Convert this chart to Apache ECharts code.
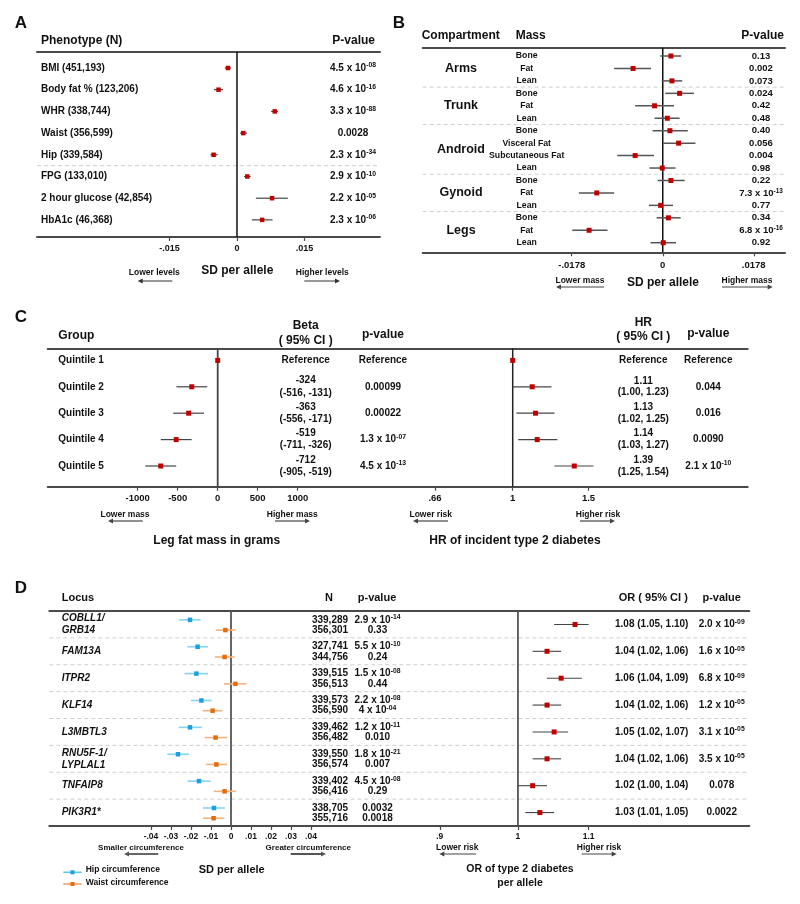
<!DOCTYPE html>
<html><head><meta charset="utf-8">
<script src="https://cdn.jsdelivr.net/npm/echarts@6/dist/echarts.min.js"></script>
<style>html,body{margin:0;padding:0;background:#fff}#c{width:800px;height:904px}</style>
</head><body><div id="c"></div>
<script>
const FONT = '"Liberation Sans", Arial, Helvetica, sans-serif';
const INK = '#111';

// ---------- Panel A ----------
const aLabels = ['BMI (451,193)', 'Body fat % (123,206)', 'WHR (338,744)', 'Waist (356,599)', 'Hip (339,584)', 'FPG (133,010)', '2 hour glucose (42,854)', 'HbA1c (46,368)'];
const aGroup = [0, 0, 0, 0, 0, 1, 1, 1];
const aEst = [-0.0020, -0.0041, 0.0084, 0.0014, -0.0052, 0.0023, 0.0078, 0.0056];
const aLo  = [-0.0027, -0.0051, 0.0076, 0.0007, -0.0059, 0.0016, 0.0042, 0.0033];
const aHi  = [-0.0013, -0.0031, 0.0091, 0.0022, -0.0043, 0.0030, 0.0113, 0.0079];
const aP = ['4.5 x 10^-08', '4.6 x 10^-16', '3.3 x 10^-88', '0.0028', '2.3 x 10^-34', '2.9 x 10^-10', '2.2 x 10^-05', '2.3 x 10^-06'];
const aTicks = [-0.015, 0, 0.015];
const aTickLabels = ['-.015', '0', '.015'];

// ---------- Panel B ----------
const bCompartments = ['Arms', 'Trunk', 'Android', 'Gynoid', 'Legs'];
const bGroupOf = [0, 0, 0, 1, 1, 1, 2, 2, 2, 2, 3, 3, 3, 4, 4, 4];
const bMass = ['Bone', 'Fat', 'Lean', 'Bone', 'Fat', 'Lean', 'Bone', 'Visceral Fat', 'Subcutaneous Fat', 'Lean', 'Bone', 'Fat', 'Lean', 'Bone', 'Fat', 'Lean'];
const bEst = [0.0016, -0.0058, 0.0018, 0.0033, -0.0016, 0.0009, 0.0014, 0.0031, -0.0054, -0.0001, 0.0016, -0.0129, -0.0004, 0.0011, -0.0144, 0.0001];
const bLo  = [-0.0005, -0.0095, -0.0002, 0.0005, -0.0054, -0.0016, -0.0020, 0.0001, -0.0089, -0.0026, -0.0010, -0.0164, -0.0027, -0.0012, -0.0177, -0.0024];
const bHi  = [0.0036, -0.0023, 0.0038, 0.0061, 0.0022, 0.0033, 0.0049, 0.0064, -0.0017, 0.0025, 0.0043, -0.0095, 0.0020, 0.0035, -0.0108, 0.0026];
const bP = ['0.13', '0.002', '0.073', '0.024', '0.42', '0.48', '0.40', '0.056', '0.004', '0.98', '0.22', '7.3 x 10^-13', '0.77', '0.34', '6.8 x 10^-16', '0.92'];
const bTicks = [-0.0178, 0, 0.0178];
const bTickLabels = ['-.0178', '0', '.0178'];

// ---------- Panel C ----------
const cGroups = ['Quintile 1', 'Quintile 2', 'Quintile 3', 'Quintile 4', 'Quintile 5'];
const cBeta   = [0, -324, -363, -519, -712];
const cBetaLo = [0, -516, -556, -711, -905];
const cBetaHi = [0, -131, -171, -326, -519];
const cBetaP  = ['Reference', '0.00099', '0.00022', '1.3 x 10^-07', '4.5 x 10^-13'];
const cHR   = [1, 1.11, 1.13, 1.14, 1.39];
const cHRLo = [1, 1.00, 1.02, 1.03, 1.25];
const cHRHi = [1, 1.23, 1.25, 1.27, 1.54];
const cHRP  = ['Reference', '0.044', '0.016', '0.0090', '2.1 x 10^-10'];
const cBetaTicks = [-1000, -500, 0, 500, 1000];
const cBetaTickLabels = ['-1000', '-500', '0', '500', '1000'];
const cHRTicks = [0.66, 1, 1.5];
const cHRTickLabels = ['.66', '1', '1.5'];

// ---------- Panel D ----------
const dLoci = ['COBLL1/\nGRB14', 'FAM13A', 'ITPR2', 'KLF14', 'L3MBTL3', 'RNU5F-1/\nLYPLAL1', 'TNFAIP8', 'PIK3R1*'];
const dHipEst = [-0.0205, -0.0167, -0.0173, -0.0148, -0.0205, -0.0265, -0.0160, -0.0085];
const dHipLo  = [-0.0258, -0.0218, -0.0232, -0.0200, -0.0262, -0.0318, -0.0217, -0.0140];
const dHipHi  = [-0.0152, -0.0115, -0.0115, -0.0097, -0.0145, -0.0210, -0.0102, -0.0030];
const dWaistEst = [-0.0028, -0.0032, 0.0022, -0.0092, -0.0077, -0.0073, -0.0032, -0.0087];
const dWaistLo  = [-0.0075, -0.0080, -0.0035, -0.0142, -0.0132, -0.0125, -0.0087, -0.0140];
const dWaistHi  = [0.0023, 0.0018, 0.0077, -0.0043, -0.0020, -0.0020, 0.0025, -0.0033];
const dHipN   = ['339,289', '327,741', '339,515', '339,573', '339,462', '339,550', '339,402', '338,705'];
const dWaistN = ['356,301', '344,756', '356,513', '356,590', '356,482', '356,574', '356,416', '355,716'];
const dHipP   = ['2.9 x 10^-14', '5.5 x 10^-10', '1.5 x 10^-08', '2.2 x 10^-08', '1.2 x 10^-11', '1.8 x 10^-21', '4.5 x 10^-08', '0.0032'];
const dWaistP = ['0.33', '0.24', '0.44', '4 x 10^-04', '0.010', '0.007', '0.29', '0.0018'];
const dOR   = [1.08, 1.04, 1.06, 1.04, 1.05, 1.04, 1.02, 1.03];
const dORLo = [1.05, 1.02, 1.04, 1.02, 1.02, 1.02, 1.00, 1.01];
const dORHi = [1.10, 1.06, 1.09, 1.06, 1.07, 1.06, 1.04, 1.05];
const dORP  = ['2.0 x 10^-09', '1.6 x 10^-05', '6.8 x 10^-09', '1.2 x 10^-05', '3.1 x 10^-05', '3.5 x 10^-05', '0.078', '0.0022'];
const dSDTicks = [-0.04, -0.03, -0.02, -0.01, 0, 0.01, 0.02, 0.03, 0.04];
const dSDTickLabels = ['-.04', '-.03', '-.02', '-.01', '0', '.01', '.02', '.03', '.04'];
const dORTicks = [0.9, 1, 1.1];
const dORTickLabels = ['.9', '1', '1.1'];

// ---------- builders ----------
const grids = [], xAxes = [], yAxes = [], series = [], gfx = [];
const idx = arr => arr.map((_, i) => i);

function addGrid(l, r, t, b, yMin, yMax) {
  grids.push({left: l, top: t, width: r - l, height: b - t, containLabel: false, outerBoundsMode: 'none'});
  const gi = grids.length - 1;
  yAxes.push({gridIndex: gi, type: 'value', inverse: true, min: yMin, max: yMax, show: false});
  return gi;
}
function tableGrid(l, r, t, b, yMin, yMax) {
  const gi = addGrid(l, r, t, b, yMin, yMax);
  const mk = pos => ({gridIndex: gi, type: 'value', min: l, max: r, position: pos,
    axisLine: {show: true, onZero: false, lineStyle: {color: '#4a4a4a', width: 2}},
    axisTick: {show: false}, axisLabel: {show: false}, splitLine: {show: false}});
  xAxes.push(mk('bottom'));
  xAxes.push(mk('top'));
  return {gi, xi: xAxes.length - 1, l, r, yMin, yMax};
}
function nearestLabel(ticks, labels) {
  return v => { let k = 0, d = Infinity; ticks.forEach((t, i) => { const e = Math.abs(t - v); if (e < d) { d = e; k = i; } }); return labels[k]; };
}
function forestGrid(l, r, t, b, yMin, yMax, type, min, max, ticks, labels, margin, fs) {
  const gi = addGrid(l, r, t, b, yMin, yMax);
  xAxes.push({gridIndex: gi, type, min, max, position: 'bottom',
    axisLine: {show: false, onZero: false}, splitLine: {show: false},
    axisTick: {show: true, customValues: ticks, length: 4, lineStyle: {color: '#4a4a4a', width: 1.2}},
    axisLabel: {show: true, customValues: ticks, formatter: nearestLabel(ticks, labels), margin, fontSize: fs,
      fontWeight: 'bold', color: INK, fontFamily: FONT, hideOverlap: false}});
  return {gi, xi: xAxes.length - 1, l, r, yMin, yMax};
}
function fmt(t) {
  return String(t).split('\n').map(line => {
    const k = line.indexOf('^');
    return k < 0 ? line : line.slice(0, k) + '{s|' + line.slice(k + 1) + '}';
  }).join('\n');
}
function textCol(g, x, rows, texts, o) {
  const sz = o.size;
  series.push({type: 'custom', xAxisIndex: g.xi, yAxisIndex: g.gi, silent: true, z: 6,
    data: texts.map((t, i) => [x, rows[i]]),
    encode: {x: 0, y: 1},
    renderItem: (p, api) => {
      const c = api.coord([api.value(0), api.value(1)]);
      return {type: 'text', x: c[0], y: c[1], style: {
        text: fmt(texts[p.dataIndex]), align: o.align || 'center', verticalAlign: 'middle',
        fill: INK, fontFamily: FONT, fontSize: sz, fontWeight: 'bold', fontStyle: o.italic ? 'italic' : 'normal',
        lineHeight: o.lh || Math.round(sz * 1.2),
        rich: {s: {fontSize: Math.round(sz * 0.68 * 10) / 10, fontWeight: 'bold', fontFamily: FONT, fill: INK, color: INK,
                   verticalAlign: 'top', lineHeight: Math.round(sz * 0.75)}}
      }};
    }});
}
function forest(g, rows, est, lo, hi, o) {
  series.push({type: 'custom', xAxisIndex: g.xi, yAxisIndex: g.gi, silent: true, z: 5,
    data: est.map((e, i) => [e, lo[i], hi[i], rows[i]]),
    encode: {x: [0, 1, 2], y: 3},
    renderItem: (p, api) => {
      const y = api.value(3);
      const c = api.coord([api.value(0), y]), a = api.coord([api.value(1), y]), b = api.coord([api.value(2), y]);
      const s = o.size, ch = [];
      if (b[0] - a[0] > 0.5) ch.push({type: 'line', shape: {x1: a[0], y1: a[1], x2: b[0], y2: b[1]}, style: {stroke: o.ci, lineWidth: o.lw}});
      ch.push({type: 'rect', shape: {x: c[0] - s / 2, y: c[1] - s / 2, width: s, height: s}, style: {fill: o.pt}});
      return {type: 'group', children: ch};
    }});
}
function vline(g, xv, color, w) {
  series.push({type: 'custom', xAxisIndex: g.xi, yAxisIndex: g.gi, silent: true, z: 4,
    data: [[xv, 0]], encode: {x: 0, y: 1},
    renderItem: (p, api) => {
      const a = api.coord([api.value(0), g.yMin]), b = api.coord([api.value(0), g.yMax]);
      return {type: 'line', shape: {x1: a[0], y1: a[1], x2: b[0], y2: b[1]}, style: {stroke: color || '#111', lineWidth: w || 1.5}};
    }});
}
function hseps(g, ys) {
  series.push({type: 'custom', xAxisIndex: g.xi, yAxisIndex: g.gi, silent: true, z: 2,
    data: ys.map(y => [g.l, y]), encode: {x: 0, y: 1},
    renderItem: (p, api) => {
      const a = api.coord([g.l, api.value(1)]), b = api.coord([g.r, api.value(1)]);
      return {type: 'line', shape: {x1: a[0], y1: a[1], x2: b[0], y2: b[1]}, style: {stroke: '#cfcfcf', lineWidth: 1, lineDash: [4, 3]}};
    }});
}
function breaksOf(groupArr) {
  const out = [];
  for (let i = 1; i < groupArr.length; i++) if (groupArr[i] !== groupArr[i - 1]) out.push(i - 0.5);
  return out;
}
function txt(x, y, text, size, align, extra) {
  gfx.push(Object.assign({type: 'text', x, y, silent: true, style: {text, fill: INK, fontFamily: FONT, fontSize: size,
    fontWeight: 'bold', align: align || 'center', verticalAlign: 'middle'}}, extra || {}));
}
function arrow(x1, x2, y, color, w) {
  const dir = Math.sign(x2 - x1);
  gfx.push({type: 'line', silent: true, shape: {x1, y1: y, x2: x2 - dir * 3, y2: y}, style: {stroke: color, lineWidth: w}});
  gfx.push({type: 'polygon', silent: true, shape: {points: [[x2, y], [x2 - dir * 5, y - 2.5], [x2 - dir * 5, y + 2.5]]}, style: {fill: color}});
}

// ---------- Panel A ----------
{
  const L = 37, R = 380, T = 52, B = 237, yMin = -0.737, yMax = 7.788;
  const tg = tableGrid(L, R, T, B, yMin, yMax);
  const fg = forestGrid(L, R, T, B, yMin, yMax, 'value', -0.04444, 0.03178, aTicks, aTickLabels, 7, 9);
  hseps(tg, breaksOf(aGroup));
  vline(fg, 0, '#111', 1.5);
  forest(fg, idx(aEst), aEst, aLo, aHi, {size: 4.5, pt: '#c00000', ci: '#222', lw: 1});
  textCol(tg, 41, idx(aLabels), aLabels, {size: 10, align: 'left'});
  textCol(tg, 353, idx(aP), aP, {size: 10});
  txt(21, 23, 'A', 17);
  txt(41, 41, 'Phenotype (N)', 12, 'left');
  txt(375, 41, 'P-value', 12, 'right');
  txt(154.3, 272.7, 'Lower levels', 8.5);
  arrow(172.3, 137.7, 281, '#333', 1);
  txt(237.3, 271, 'SD per allele', 12);
  txt(322.3, 272.7, 'Higher levels', 8.5);
  arrow(304.3, 340, 281, '#333', 1);
}

// ---------- Panel B ----------
{
  const L = 422.7, R = 785, T = 47.7, B = 252.3, yMin = -0.667, yMax = 15.77;
  const tg = tableGrid(L, R, T, B, yMin, yMax);
  const fg = forestGrid(L, R, T, B, yMin, yMax, 'value', -0.04695, 0.02391, bTicks, bTickLabels, 8, 9.5);
  hseps(tg, breaksOf(bGroupOf));
  vline(fg, 0, '#111', 1.5);
  forest(fg, idx(bEst), bEst, bLo, bHi, {size: 5, pt: '#c00000', ci: '#555', lw: 1.5});
  const groupRows = bCompartments.map((_, g) => {
    const ii = bGroupOf.map((v, i) => v === g ? i : -1).filter(i => i >= 0);
    return ii.reduce((s, v) => s + v, 0) / ii.length;
  });
  textCol(tg, 461, groupRows, bCompartments, {size: 12.5});
  textCol(tg, 526.7, idx(bMass), bMass, {size: 8.7});
  textCol(tg, 761, idx(bP), bP, {size: 9.5});
  txt(399, 23, 'B', 17);
  txt(421.7, 36, 'Compartment', 12, 'left');
  txt(515.7, 36, 'Mass', 12, 'left');
  txt(784, 36, 'P-value', 12, 'right');
  txt(580, 281, 'Lower mass', 8.5);
  arrow(604, 556, 287, '#444', 1);
  txt(663, 283, 'SD per allele', 12);
  txt(747, 281, 'Higher mass', 8.5);
  arrow(722, 772.7, 287, '#444', 1);
}

// ---------- Panel C ----------
{
  const L = 47.7, R = 747.7, T = 348.3, B = 486.7, yMin = -0.458, yMax = 4.784;
  const tg = tableGrid(L, R, T, B, yMin, yMax);
  const fl = forestGrid(L, 400, T, B, yMin, yMax, 'value', -2125, 2278.75, cBetaTicks, cBetaTickLabels, 7, 9.5);
  const fr = forestGrid(400, R, T, B, yMin, yMax, 'log', 0.5473, 3.514, cHRTicks, cHRTickLabels, 7, 9.5);
  vline(fl, 0, '#444', 1.8);
  vline(fr, 1, '#222', 1.5);
  forest(fl, idx(cBeta), cBeta, cBetaLo, cBetaHi, {size: 5, pt: '#c00000', ci: '#444', lw: 1.2});
  forest(fr, idx(cHR), cHR, cHRLo, cHRHi, {size: 5, pt: '#c00000', ci: '#444', lw: 1.2});
  const betaTxt = cBeta.map((b, i) => i === 0 ? 'Reference' : `${b}\n(${cBetaLo[i]}, ${cBetaHi[i]})`);
  const hrTxt = cHR.map((h, i) => i === 0 ? 'Reference' : `${h.toFixed(2)}\n(${cHRLo[i].toFixed(2)}, ${cHRHi[i].toFixed(2)})`);
  textCol(tg, 58.3, idx(cGroups), cGroups, {size: 10, align: 'left'});
  textCol(tg, 305.7, idx(betaTxt), betaTxt, {size: 10, lh: 12.3});
  textCol(tg, 383, idx(cBetaP), cBetaP, {size: 10});
  textCol(tg, 643.3, idx(hrTxt), hrTxt, {size: 10, lh: 11.8});
  textCol(tg, 708.3, idx(cHRP), cHRP, {size: 10});
  txt(21, 317, 'C', 17);
  txt(58.3, 335.7, 'Group', 12, 'left');
  txt(305.7, 325.7, 'Beta', 12);
  txt(305.7, 340.7, '( 95% CI )', 12);
  txt(383, 334.7, 'p-value', 12);
  txt(643.3, 322.7, 'HR', 12);
  txt(643.3, 336.7, '( 95% CI )', 12);
  txt(708.3, 333.3, 'p-value', 12);
  txt(125, 515, 'Lower mass', 8.5);
  arrow(142.7, 108, 521, '#444', 1.2);
  txt(292.3, 515, 'Higher mass', 8.5);
  arrow(275, 310, 521, '#444', 1.2);
  txt(216.7, 540.7, 'Leg fat mass in grams', 12);
  txt(430.7, 514.3, 'Lower risk', 8.5);
  arrow(448, 413, 521, '#444', 1.2);
  txt(598, 514.3, 'Higher risk', 8.5);
  arrow(580, 615, 521, '#444', 1.2);
  txt(515, 540.7, 'HR of incident type 2 diabetes', 12);
}

// ---------- Panel D ----------
{
  const L = 49.3, R = 749.3, T = 611, B = 826, yMin = -0.5, yMax = 7.5;
  const HIP_OFF = -0.17, WAIST_OFF = 0.21;
  const tg = tableGrid(L, R, T, B, yMin, yMax);
  const fl = forestGrid(L, 400, T, B, yMin, yMax, 'value', -0.09085, 0.0845, dSDTicks, dSDTickLabels, 6, 8.5);
  const fr = forestGrid(400, R, T, B, yMin, yMax, 'log', 0.853, 1.366, dORTicks, dORTickLabels, 6, 8.5);
  const rows = idx(dLoci);
  const hipRows = rows.map(i => i + HIP_OFF), waistRows = rows.map(i => i + WAIST_OFF);
  hseps(tg, breaksOf(rows));
  vline(fl, 0, '#555', 1.8);
  vline(fr, 1, '#555', 1.8);
  forest(fl, hipRows, dHipEst, dHipLo, dHipHi, {size: 4.5, pt: '#1aa0e0', ci: '#86d3f3', lw: 1.6});
  forest(fl, waistRows, dWaistEst, dWaistLo, dWaistHi, {size: 4.5, pt: '#e46c0a', ci: '#f4b27e', lw: 1.6});
  forest(fr, rows, dOR, dORLo, dORHi, {size: 5, pt: '#c00000', ci: '#444', lw: 1.1});
  const orTxt = dOR.map((v, i) => `${v.toFixed(2)} (${dORLo[i].toFixed(2)}, ${dORHi[i].toFixed(2)})`);
  textCol(tg, 61.7, rows, dLoci, {size: 10, align: 'left', italic: true, lh: 12});
  textCol(tg, 330, hipRows, dHipN, {size: 10});
  textCol(tg, 330, waistRows, dWaistN, {size: 10});
  textCol(tg, 377.5, hipRows, dHipP, {size: 10});
  textCol(tg, 377.5, waistRows, dWaistP, {size: 10});
  textCol(tg, 651.7, rows, orTxt, {size: 10});
  textCol(tg, 721.7, rows, dORP, {size: 10});
  txt(21, 588, 'D', 17);
  txt(61.7, 597.7, 'Locus', 11, 'left');
  txt(329, 597.7, 'N', 11);
  txt(377, 597.7, 'p-value', 11);
  txt(653.3, 597.7, 'OR ( 95% CI )', 11);
  txt(721.7, 597.7, 'p-value', 11);
  txt(141, 847.3, 'Smaller circumference', 8);
  arrow(158.3, 124, 854, '#555', 1.8);
  txt(308.3, 847.3, 'Greater circumference', 8);
  arrow(290.7, 326, 854, '#555', 1.8);
  txt(231.7, 870, 'SD per allele', 11);
  // legend
  gfx.push({type: 'line', silent: true, shape: {x1: 63.3, y1: 872.3, x2: 81.7, y2: 872.3}, style: {stroke: '#5cc6f2', lineWidth: 1.6}});
  gfx.push({type: 'rect', silent: true, shape: {x: 70.5, y: 870.3, width: 4, height: 4}, style: {fill: '#1aa0e0'}});
  txt(85.7, 870, 'Hip circumference', 8.5, 'left');
  gfx.push({type: 'line', silent: true, shape: {x1: 63.3, y1: 884, x2: 81.7, y2: 884}, style: {stroke: '#f4a467', lineWidth: 1.6}});
  gfx.push({type: 'rect', silent: true, shape: {x: 70.5, y: 882, width: 4, height: 4}, style: {fill: '#e46c0a'}});
  txt(85.7, 882.7, 'Waist circumference', 8.5, 'left');
  txt(457.3, 847.3, 'Lower risk', 8.5);
  arrow(476, 439.3, 854, '#444', 1.2);
  txt(599, 847.3, 'Higher risk', 8.5);
  arrow(581.7, 616.7, 854, '#444', 1.2);
  txt(520, 869.3, 'OR of type 2 diabetes', 10.5);
  txt(520, 882.7, 'per allele', 10.5);
}

const chart = echarts.init(document.getElementById('c'), null, {renderer: 'canvas', width: 800, height: 904});
chart.setOption({
  backgroundColor: '#fff',
  animation: false,
  textStyle: {fontFamily: FONT},
  grid: grids,
  xAxis: xAxes,
  yAxis: yAxes,
  series: series,
  graphic: {elements: gfx}
});
</script>
</body></html>
